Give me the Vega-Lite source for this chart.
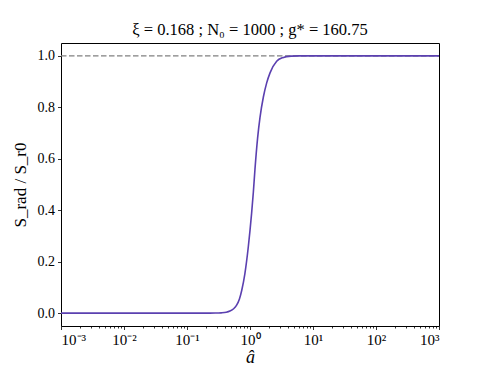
{
  "$schema": "https://vega.github.io/schema/vega-lite/v6.json",
  "autosize": {"type": "none"},
  "width": 378,
  "height": 283,
  "padding": {"left": 61, "top": 43, "right": 49, "bottom": 40},
  "background": "white",
  "config": {
    "view": {"stroke": "#000000", "strokeWidth": 1},
    "font": "Liberation Serif",
    "axis": {"grid": false, "domain": false, "tickColor": "#000000", "tickWidth": 0.8, "labelColor": "#000000", "titleColor": "#000000", "labelFont": "Liberation Serif", "titleFont": "Liberation Serif", "titleFontWeight": "normal"}
  },
  "title": {"text": "ξ = 0.168 ;  N₀ = 1000 ;  g* = 160.75", "fontSize": 16.5, "fontWeight": "normal", "font": "Liberation Serif", "color": "#000000", "offset": 5},
  "layer": [
    {
      "data": {"values": [{"a": 0.001, "s": 1}, {"a": 1000, "s": 1}]},
      "mark": {"type": "line", "color": "#808080", "strokeWidth": 1.4, "strokeDash": [5.5, 2.5]},
      "encoding": {
        "x": {"field": "a", "type": "quantitative", "scale": {"type": "log", "domain": [0.001, 1000], "nice": false},
          "axis": {"orient": "bottom", "values": [0.002,0.003,0.004,0.005,0.006,0.007,0.008,0.009,0.02,0.03,0.04,0.05,0.06,0.07,0.08,0.09,0.2,0.3,0.4,0.5,0.6,0.7,0.8,0.9,2,3,4,5,6,7,8,9,20,30,40,50,60,70,80,90,200,300,400,500,600,700,800,900], "labels": false, "tickSize": 2, "title": null}},
        "y": {"field": "s", "type": "quantitative", "scale": {"domain": [-0.05, 1.05], "nice": false, "zero": false},
          "axis": {"values": [0, 0.2, 0.4, 0.6, 0.8, 1.0], "format": ".1f", "tickSize": 3.5, "labelFontSize": 14, "labelPadding": 3, "title": "S_rad / S_r0", "titleFontSize": 17, "titlePadding": 8}}
      }
    },
    {
      "data": {"values": [
        {"a": 0.001, "s": 0}, {"a": 0.01, "s": 0}, {"a": 0.1, "s": 0}, {"a": 0.2, "s": 0},
        {"a": 0.28, "s": 0.0003}, {"a": 0.35, "s": 0.0012}, {"a": 0.42, "s": 0.0035},
        {"a": 0.48, "s": 0.008}, {"a": 0.55, "s": 0.017}, {"a": 0.61, "s": 0.03},
        {"a": 0.68, "s": 0.055}, {"a": 0.74, "s": 0.089}, {"a": 0.83, "s": 0.154},
        {"a": 0.94, "s": 0.258}, {"a": 1.06, "s": 0.388}, {"a": 1.13, "s": 0.47},
        {"a": 1.2, "s": 0.56}, {"a": 1.32, "s": 0.68}, {"a": 1.44, "s": 0.76},
        {"a": 1.63, "s": 0.84}, {"a": 1.84, "s": 0.895}, {"a": 2.08, "s": 0.934},
        {"a": 2.65, "s": 0.979}, {"a": 3.3, "s": 0.993}, {"a": 4.5, "s": 0.999},
        {"a": 6, "s": 1}, {"a": 10, "s": 1}, {"a": 100, "s": 1}, {"a": 1000, "s": 1}
      ]},
      "mark": {"type": "line", "color": "#5b40b0", "strokeWidth": 1.6, "interpolate": "monotone"},
      "encoding": {
        "x": {"field": "a", "type": "quantitative", "scale": {"type": "log", "domain": [0.001, 1000], "nice": false},
          "axis": {"orient": "bottom", "values": [0.001, 0.01, 0.1, 1, 10, 100, 1000], "tickSize": 3.5, "labelFontSize": 15, "labelPadding": 3,
            "labelExpr": "['10⁻³','10⁻²','10⁻¹','10⁰','10¹','10²','10³'][round(log(datum.value)/LN10)+3]",
            "title": "â", "titleFontSize": 18, "titleFontStyle": "italic", "titlePadding": 1}},
        "y": {"field": "s", "type": "quantitative"}
      }
    }
  ],
  "resolve": {"axis": {"x": "independent"}}
}
